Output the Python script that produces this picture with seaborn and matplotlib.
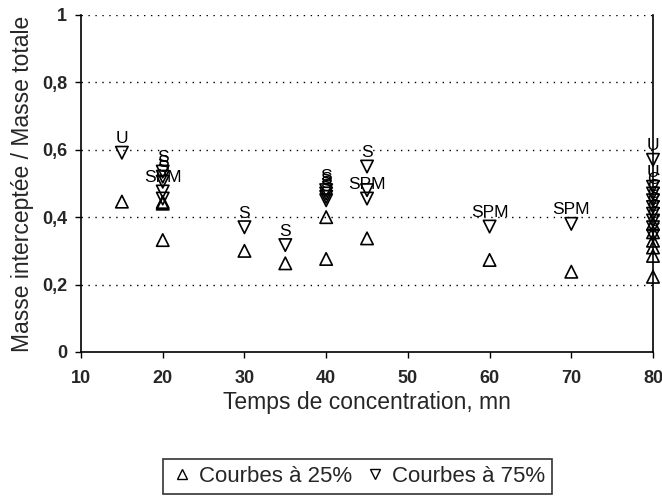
import numpy as np
import pandas as pd
import matplotlib
matplotlib.use("Agg")
import matplotlib.pyplot as plt
from matplotlib.lines import Line2D
import seaborn as sns

# valeurs
t25 = [15, 20, 20, 20, 30, 35, 40, 40, 45, 60, 70, 80, 80, 80, 80, 80, 80]
v25 = [0.446, 0.445, 0.44, 0.332, 0.30, 0.263, 0.40, 0.276, 0.337, 0.273, 0.238,
       0.38, 0.355, 0.33, 0.31, 0.285, 0.223]

t75 = [15, 20, 20, 20, 20, 20, 30, 35, 40, 40, 40, 40, 45, 45, 45, 60, 70,
       80, 80, 80, 80, 80, 80, 80, 80, 80]
v75 = [0.591, 0.535, 0.52, 0.505, 0.476, 0.455, 0.37, 0.317, 0.48, 0.47, 0.46, 0.45,
       0.55, 0.48, 0.455, 0.372, 0.38,
       0.57, 0.49, 0.47, 0.45, 0.43, 0.41, 0.39, 0.37, 0.345]
lab75 = ["U", "S", "S", "S", "SPM", "", "S", "S", "S", "S", "S", "S",
         "S", "", "SPM", "SPM", "SPM",
         "U", "U", "C", "C", "C", "C", "C", "C", "C"]

xticks = [10, 20, 30, 40, 50, 60, 70, 80]
yticks = [0, 0.2, 0.4, 0.6, 0.8, 1]
ytick_labels = ["0", "0,2", "0,4", "0,6", "0,8", "1"]

df25 = pd.DataFrame({"t": t25, "v": v25})
df75 = pd.DataFrame({"t": t75, "v": v75, "lab": lab75})

sns.set_style("white")
plt.rcParams["font.family"] = ["Liberation Sans", "DejaVu Sans"]

fig = plt.figure(figsize=(6.62, 4.98), dpi=100)
ax = fig.add_axes([0.1224, 0.2932, 0.864, 0.677])

sns.scatterplot(data=df25, x="t", y="v", marker="^", s=80, facecolors="none",
                edgecolor="black", linewidth=1.2, ax=ax, legend=False, clip_on=False, zorder=3)
sns.scatterplot(data=df75, x="t", y="v", marker="v", s=80, facecolors="none",
                edgecolor="black", linewidth=1.2, ax=ax, legend=False, clip_on=False, zorder=3)

# etiquettes au-dessus des points a 75%
for t, v, lab in zip(t75, v75, lab75):
    if lab:
        ax.annotate(lab, (t, v), xytext=(0, 10), textcoords="offset points",
                    ha="center", va="center", fontsize=12.5, color="black",
                    annotation_clip=False, zorder=4)

ax.set_xlim(10, 80)
ax.set_ylim(0, 1)
ax.set_xticks(xticks)
ax.set_yticks(yticks)
ax.set_yticklabels(ytick_labels)
for lbl in ax.get_xticklabels() + ax.get_yticklabels():
    lbl.set_fontweight("bold")
    lbl.set_fontsize(13)

for yv in yticks[1:]:
    ax.axhline(yv, color="black", linestyle=(0, (1, 4)), linewidth=1, zorder=1)

ax.tick_params(axis="both", direction="out", length=4, width=1, color="black",
               bottom=True, left=True)
ax.tick_params(axis="x", pad=9)
ax.tick_params(axis="y", pad=6)
for side in ["left", "bottom", "right"]:
    ax.spines[side].set_color("black")
    ax.spines[side].set_linewidth(1.2)
ax.spines["top"].set_visible(False)

ax.set_xlabel("Temps de concentration, mn", fontsize=16.5, labelpad=3)
ax.set_ylabel("Masse interceptée / Masse totale", fontsize=16.5, labelpad=6)

handles = [
    Line2D([], [], marker="^", linestyle="none", markerfacecolor="none",
           markeredgecolor="black", markersize=7, label="Courbes à 25%"),
    Line2D([], [], marker="v", linestyle="none", markerfacecolor="none",
           markeredgecolor="black", markersize=7, label="Courbes à 75%"),
]
leg = fig.legend(handles=handles, loc="lower center", bbox_to_anchor=(0.54, 0.0),
                 ncol=2, frameon=True, fancybox=False, fontsize=16,
                 handletextpad=0.2, columnspacing=0.5, handlelength=1.1,
                 borderpad=0.3, borderaxespad=0.2)
leg.get_frame().set_edgecolor("black")
leg.get_frame().set_linewidth(1.2)

fig.savefig("out.png", dpi=100)
